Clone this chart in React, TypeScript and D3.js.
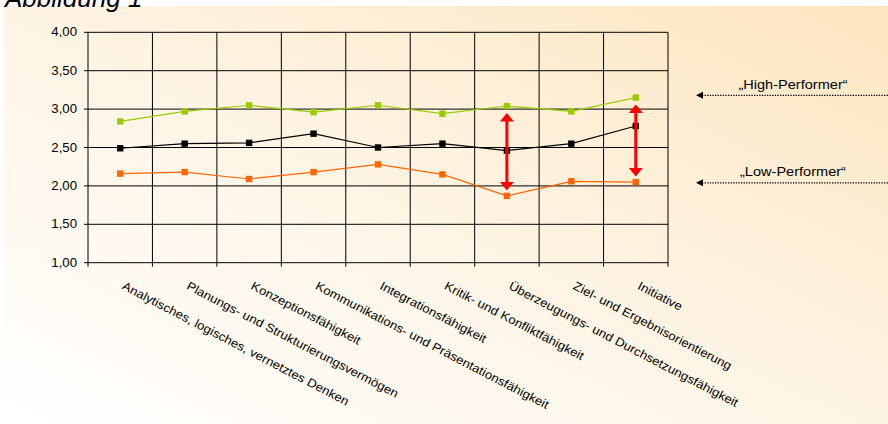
import * as d3 from "d3";

const categories = [
  "Analytisches, logisches, vernetztes Denken",
  "Planungs- und Strukturierungsvermögen",
  "Konzeptionsfähigkeit",
  "Kommunikations- und Präsentationsfähigkeit",
  "Integrationsfähigkeit",
  "Kritik- und Konfliktfähigkeit",
  "Überzeugungs- und Durchsetzungsfähigkeit",
  "Ziel- und Ergebnisorientierung",
  "Initiative",
];
const highPerformer = [2.84, 2.97, 3.05, 2.96, 3.05, 2.94, 3.04, 2.97, 3.15];
const average = [2.49, 2.55, 2.56, 2.68, 2.5, 2.55, 2.46, 2.55, 2.78];
const lowPerformer = [2.16, 2.18, 2.09, 2.18, 2.28, 2.15, 1.87, 2.06, 2.05];
const yTicks = [1, 1.5, 2, 2.5, 3, 3.5, 4];
const gapCategories = [6, 8];
const legendLabels = ["\u201EHigh-Performer\u201C", "\u201ELow-Performer\u201C"];
const legendValues = [3.18, 2.04];

const W = 888;
const H = 424;
const FONT = "'Liberation Sans', Arial, sans-serif";
const LEFT = 88;
const RIGHT = 668;
const TOP = 32.3;
const BOTTOM = 262.7;

const series = [
  { values: highPerformer, color: "#99cc00" },
  { values: average, color: "#000000" },
  { values: lowPerformer, color: "#ff6600" },
];

export default function App() {
  const x = d3.scaleBand<string>().domain(categories).range([LEFT, RIGHT]).padding(0);
  const y = d3.scaleLinear().domain([1, 4]).range([BOTTOM, TOP]);
  const cx = (c: string) => (x(c) ?? 0) + x.bandwidth() / 2;
  const fmt = (v: number) => d3.format(".2f")(v).replace(".", ",");
  const line = d3
    .line<number>()
    .x((_, i) => cx(categories[i]))
    .y((d) => y(d));
  const bounds = categories.map((c) => x(c) ?? 0).concat([RIGHT]);

  return (
    <div style={{ position: "fixed", left: 0, top: 0 }}>
      <svg width={W} height={H} style={{ display: "block", fontFamily: FONT }}>
        <defs>
          <linearGradient id="bg" x1="0" y1="1" x2="1" y2="0">
            <stop offset="0" stopColor="#ffffff" />
            <stop offset="0.5" stopColor="#fef4e4" />
            <stop offset="1" stopColor="#fde5bf" />
          </linearGradient>
        </defs>
        <rect x={0} y={0} width={W} height={H} fill="#ffffff" />
        <rect x={4} y={6} width={W - 4} height={H - 6} fill="url(#bg)" />
        <text x={5} y={7} fontSize={26} fontStyle="italic" fill="#000">
          Abbildung 1
        </text>

        {/* grid */}
        {yTicks.map((t) => (
          <g key={t}>
            <line x1={LEFT - 4} x2={RIGHT} y1={y(t)} y2={y(t)} stroke="#000" strokeWidth={1} />
            <text
              transform={`translate(77,${y(t) + 4}) scale(1.1,1)`}
              textAnchor="end"
              fontSize={12}
              fill="#000"
            >
              {fmt(t)}
            </text>
          </g>
        ))}
        {bounds.map((b, i) => (
          <line key={i} x1={b} x2={b} y1={TOP} y2={BOTTOM + 4} stroke="#000" strokeWidth={1} />
        ))}

        {/* category labels */}
        {categories.map((c) => (
          <text
            key={c}
            transform={`translate(${cx(c) + 1},${288.6}) rotate(27.5) scale(1.1,1)`}
            fontSize={12}
            fill="#000"
          >
            {c}
          </text>
        ))}

        {/* series */}
        {series.map((s, si) => (
          <g key={si}>
            <path d={line(s.values) ?? ""} fill="none" stroke={s.color} strokeWidth={1.2} />
            {s.values.map((v, i) => (
              <rect
                key={i}
                x={cx(categories[i]) - 3.2}
                y={y(v) - 3.2}
                width={6.4}
                height={6.4}
                fill={s.color}
              />
            ))}
          </g>
        ))}

        {/* red gap arrows */}
        {gapCategories.map((gi) => {
          const xx = cx(categories[gi]);
          const top = y(highPerformer[gi]) + 7;
          const bot = y(lowPerformer[gi]) - 5.5;
          return (
            <g key={gi} fill="#ff0000">
              <line x1={xx} x2={xx} y1={top + 6} y2={bot - 6} stroke="#ff0000" strokeWidth={3} />
              <path d={`M${xx},${top} L${xx + 7},${top + 8.5} L${xx - 7},${top + 8.5} Z`} />
              <path d={`M${xx},${bot} L${xx + 7},${bot - 8.5} L${xx - 7},${bot - 8.5} Z`} />
            </g>
          );
        })}

        {/* legend annotations */}
        {legendLabels.map((l, i) => {
          const ly = y(legendValues[i]);
          return (
            <g key={l}>
              <text
                transform={`translate(793,${ly - 6.7}) scale(1.12,1)`}
                textAnchor="middle"
                fontSize={13}
                fill="#000"
              >
                {l}
              </text>
              <line
                x1={702}
                x2={W}
                y1={ly}
                y2={ly}
                stroke="#000"
                strokeWidth={1.3}
                strokeDasharray="1.3,1.3"
              />
              <path d={`M696,${ly} L703,${ly - 3.5} L703,${ly + 3.5} Z`} fill="#000" />
            </g>
          );
        })}
      </svg>
    </div>
  );
}
